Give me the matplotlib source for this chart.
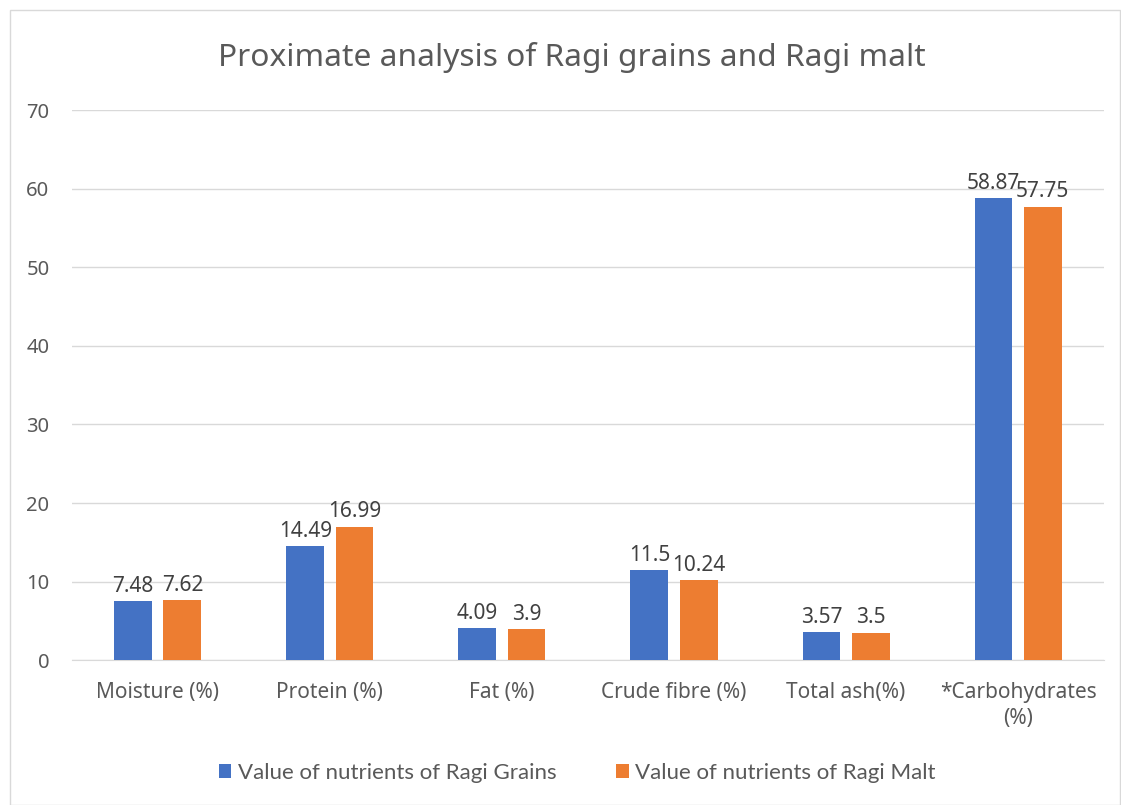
import matplotlib.pyplot as plt
import numpy as np
from matplotlib.patches import Rectangle

# -------- Data --------
categories = ["Moisture (%)", "Protein (%)", "Fat (%)", "Crude fibre (%)",
              "Total ash(%)", "*Carbohydrates\n(%)"]
ragi_grains = [7.48, 14.49, 4.09, 11.5, 3.57, 58.87]
ragi_malt = [7.62, 16.99, 3.9, 10.24, 3.5, 57.75]
grain_labels = ["7.48", "14.49", "4.09", "11.5", "3.57", "58.87"]
malt_labels = ["7.62", "16.99", "3.9", "10.24", "3.5", "57.75"]

blue = "#4472C4"
orange = "#ED7D31"
text_col = "#595959"

plt.rcParams["font.family"] = ["Noto Sans", "DejaVu Sans"]

fig = plt.figure(figsize=(11.21, 8.05), dpi=100)
ax = fig.add_axes([0.064, 0.180, 0.921, 0.683])

# chart border
fig.patches.append(Rectangle((0.009, 0.0), 0.99, 0.988, transform=fig.transFigure,
                             fill=False, edgecolor="#D9D9D9", linewidth=1))

x = np.arange(len(categories))
w = 0.22
off = 0.143
b1 = ax.bar(x - off, ragi_grains, w, color=blue, label="Value of nutrients of Ragi Grains", zorder=3)
b2 = ax.bar(x + off, ragi_malt, w, color=orange, label="Value of nutrients of Ragi Malt", zorder=3)

ax.bar_label(b1, labels=grain_labels, padding=3, fontsize=15, color="#404040")
ax.bar_label(b2, labels=malt_labels, padding=3, fontsize=15, color="#404040")

ax.set_xlim(-0.5, len(categories) - 0.5)
ax.set_ylim(0, 70)
ax.set_yticks(range(0, 71, 10))
ax.set_xticks(x)
ax.set_xticklabels(categories, linespacing=1.3)
ax.grid(axis="y", color="#D9D9D9", linewidth=1, zorder=0)
ax.tick_params(axis="x", length=0, labelsize=15, colors=text_col, pad=16)
ax.tick_params(axis="y", length=0, labelsize=14.5, colors=text_col, pad=16)
for s in ["top", "right", "left"]:
    ax.spines[s].set_visible(False)
ax.spines["bottom"].set_color("#D9D9D9")

fig.text(0.51, 0.929, "Proximate analysis of Ragi grains and Ragi malt",
         ha="center", va="center", fontsize=22.8, color=text_col)

leg = fig.legend(loc="center", bbox_to_anchor=(0.515, 0.04), ncol=2, frameon=False,
                 fontsize=16, handlelength=0.55, handleheight=0.6, columnspacing=2.7,
                 handletextpad=0.3, labelcolor=text_col)
for t in leg.get_texts():
    t.set_fontfamily(["Lato", "DejaVu Sans"])

fig.savefig("out.png", dpi=100)
